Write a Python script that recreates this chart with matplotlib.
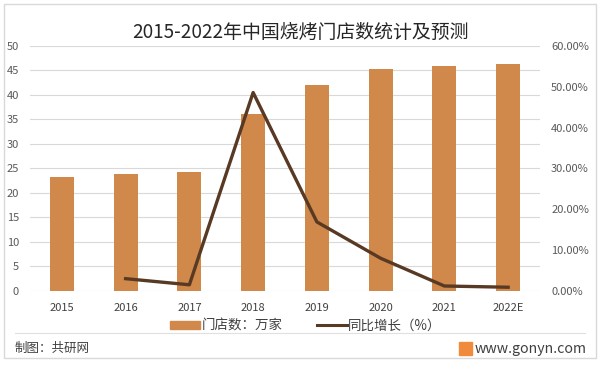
import matplotlib.pyplot as plt
from matplotlib.patches import Rectangle
from matplotlib.lines import Line2D
from matplotlib.ticker import FuncFormatter

plt.rcParams['font.family'] = ['Noto Sans CJK SC', 'DejaVu Sans']

# data
years = ["2015", "2016", "2017", "2018", "2019", "2020", "2021", "2022E"]
stores = [23.2, 23.9, 24.2, 36.2, 42.1, 45.4, 45.9, 46.3]
growth_years = ["2016", "2017", "2018", "2019", "2020", "2021", "2022E"]
growth = [3.0, 1.5, 48.6, 16.9, 8.0, 1.2, 0.9]

bar_color = "#D0894B"
line_color = "#583A24"
tick_color = "#595959"

fig = plt.figure(figsize=(6, 3.65), dpi=100)

# outer frame
fig.patches.append(Rectangle((0.006, 0.02), 0.988, 0.968, transform=fig.transFigure,
                             fill=False, edgecolor="#D9D9D9", linewidth=1))

ax = fig.add_axes([0.05, 0.203, 0.85, 0.671])
x = list(range(len(years)))
ax.bar(x, stores, width=0.38, color=bar_color, zorder=2)
ax.set_ylim(0, 50)
ax.set_yticks(range(0, 51, 5))
ax.set_xlim(-0.5, len(years) - 0.5)
ax.set_xticks(x)
ax.set_xticklabels(years)
ax.grid(axis="y", color="#D9D9D9", linewidth=0.8, zorder=0)
for s in ax.spines.values():
    s.set_visible(False)
ax.tick_params(axis="both", length=0, labelsize=8, colors=tick_color)
ax.tick_params(axis="x", pad=9, colors="#404040")
ax.tick_params(axis="y", pad=8)

ax2 = ax.twinx()
gx = [years.index(y) for y in growth_years]
ax2.plot(gx, growth, color=line_color, linewidth=2.4, zorder=3)
ax2.set_ylim(0, 60)
ax2.set_yticks(range(0, 61, 10))
ax2.yaxis.set_major_formatter(FuncFormatter(lambda v, p: "%.2f%%" % v))
for s in ax2.spines.values():
    s.set_visible(False)
ax2.tick_params(axis="y", length=0, labelsize=8, colors=tick_color, pad=8)

fig.text(0.5, 0.91, "2015-2022年中国烧烤门店数统计及预测", ha="center", va="center",
         fontsize=13.6, color="#262626")

handles = [Rectangle((0, 0), 1, 1, color=bar_color),
           Line2D([0], [0], color=line_color, linewidth=2.2)]
fig.legend(handles, ["门店数：万家", "同比增长（%）"], loc="center", bbox_to_anchor=(0.51, 0.108),
           ncol=2, frameon=False, fontsize=9.7, handlelength=2.2, handleheight=0.5,
           handletextpad=0.1, columnspacing=2.6, labelcolor="#404040")

fig.add_artist(Line2D([0.025, 0.975], [0.088, 0.088], transform=fig.transFigure,
                      color="#E0E0E0", linewidth=0.8))
fig.text(0.025, 0.045, "制图：共研网", ha="left", va="center", fontsize=9, color="#404040")
fig.patches.append(Rectangle((0.765, 0.028), 0.022, 0.036, transform=fig.transFigure,
                             color="#F08A3C"))
fig.text(0.978, 0.045, "www.gonyn.com", ha="right", va="center", fontsize=10.2, color="#404040")

fig.savefig("out.png", dpi=100)
